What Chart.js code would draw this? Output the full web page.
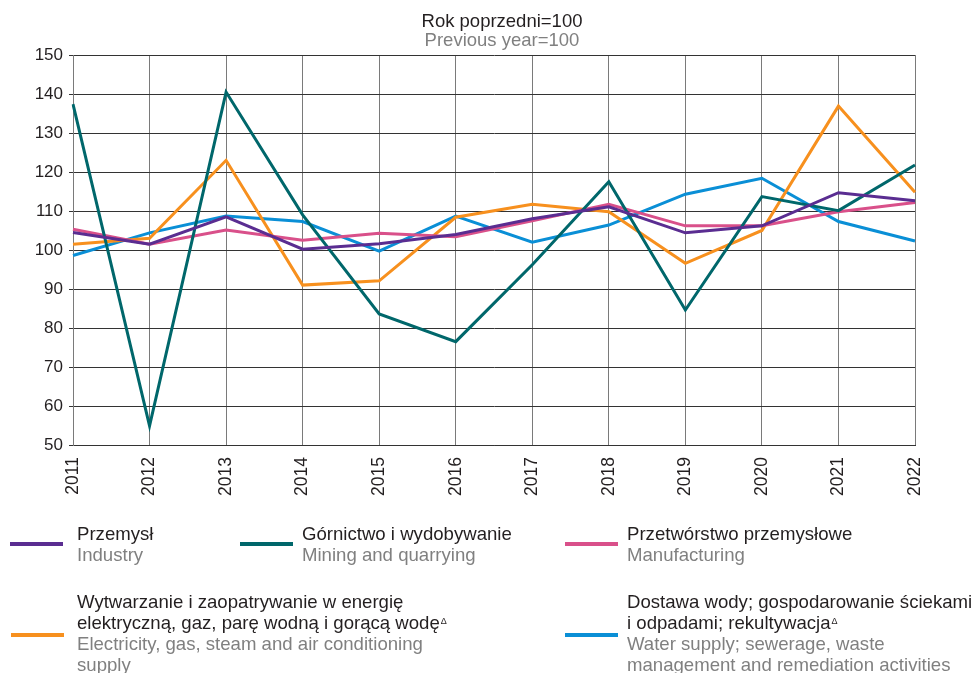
<!DOCTYPE html>
<html><head><meta charset="utf-8">
<script src="https://cdn.jsdelivr.net/npm/chart.js@4.4.0/dist/chart.umd.min.js"></script>
<style>
html,body{margin:0;padding:0;background:#fff;}
#wrap{position:relative;width:974px;height:673px;overflow:hidden;font-family:"Liberation Sans",Arial,sans-serif;}
#c{position:absolute;left:0;top:0;}
.lg{position:absolute;font-size:18.6px;line-height:21px;white-space:nowrap;}
.ttl{position:absolute;left:302px;width:400px;text-align:center;font-size:18.5px;line-height:19px;white-space:nowrap;}
.pl{color:#231f20}.en{color:#808080}
.sw{position:absolute;height:4px;width:53px;}
sup{font-size:9px;vertical-align:top;position:relative;top:-1px;margin-left:1px}
</style></head>
<body><div id="wrap"><canvas id="c" width="974" height="673"></canvas></div>
<script>
// ---- data ----
const years = ['2011','2012','2013','2014','2015','2016','2017','2018','2019','2020','2021','2022'];
const industry      = [104.5, 101.5, 108.5, 100.2, 101.6, 104.0, 108.0, 111.1, 104.4, 106.2, 114.7, 112.6];
const mining        = [137.4,  54.9, 140.5, 109.0,  83.6,  76.5,  96.2, 117.5,  84.6, 113.7, 110.1, 121.8];
const manufacturing = [105.3, 101.5, 105.1, 102.5, 104.3, 103.4, 107.5, 111.7, 106.2, 106.2, 109.8, 112.2];
const electricity   = [101.5, 103.0, 123.0,  91.0,  92.1, 108.4, 111.7, 109.8,  96.6, 105.0, 136.9, 114.8];
const water         = [ 98.6, 104.4, 108.7, 107.3,  99.7, 108.7, 102.0, 106.4, 114.3, 118.4, 107.3, 102.3];
const yTicks = [50, 60, 70, 80, 90, 100, 110, 120, 130, 140, 150];
const titlePl = 'Rok poprzedni=100';
const titleEn = 'Previous year=100';
const labelsPl = [
  ['Przemysł'],
  ['Górnictwo i wydobywanie'],
  ['Przetwórstwo przemysłowe'],
  ['Wytwarzanie i zaopatrywanie w energię', 'elektryczną, gaz, parę wodną i gorącą wodę\u0394'],
  ['Dostawa wody; gospodarowanie ściekami', 'i odpadami; rekultywacja\u0394']
];
const labelsEn = [
  ['Industry'],
  ['Mining and quarrying'],
  ['Manufacturing'],
  ['Electricity, gas, steam and air conditioning', 'supply'],
  ['Water supply; sewerage, waste', 'management and remediation activities']
];
const seriesValues = [industry, mining, manufacturing, electricity, water];

// ---- styles ----
const colors = ['#5a2d91', '#00676b', '#d9508a', '#f7901e', '#0a8fd6'];
const legendPos = [
  {sx: 10, sy: 542, tx: 77, ty: 523},
  {sx: 240, sy: 542, tx: 302, ty: 523},
  {sx: 565, sy: 542, tx: 627, ty: 523},
  {sx: 11, sy: 633, tx: 77, ty: 591},
  {sx: 565, sy: 633, tx: 627, ty: 591}
];
const FONT = '"Liberation Sans", Arial, sans-serif';

const wrap = document.getElementById('wrap');
function esc(s){return s.replace(/&/g,'&amp;').replace(/</g,'&lt;');}
function fmt(s){return esc(s).replace('\u0394','<sup>\u0394</sup>');}

[[titlePl, 'pl', 11], [titleEn, 'en', 29.5]].forEach(([txt, cls, top]) => {
  const d = document.createElement('div');
  d.className = 'ttl ' + cls;
  d.style.top = top + 'px';
  d.textContent = txt;
  wrap.appendChild(d);
});

seriesValues.forEach((_, i) => {
  const p = legendPos[i];
  const sw = document.createElement('div');
  sw.className = 'sw';
  sw.style.left = p.sx + 'px'; sw.style.top = p.sy + 'px'; sw.style.background = colors[i];
  wrap.appendChild(sw);
  const t = document.createElement('div');
  t.className = 'lg';
  t.style.left = p.tx + 'px'; t.style.top = p.ty + 'px';
  t.innerHTML = labelsPl[i].map(l => '<div class="pl">' + fmt(l) + '</div>').join('') +
                labelsEn[i].map(l => '<div class="en">' + fmt(l) + '</div>').join('');
  wrap.appendChild(t);
});

const datasets = seriesValues.map((vals, i) => ({
  label: labelsPl[i].join(' '),
  data: vals,
  borderColor: colors[i],
  backgroundColor: colors[i],
  borderWidth: 3,
  pointRadius: 0,
  tension: 0,
  fill: false
}));

new Chart(document.getElementById('c'), {
  type: 'line',
  data: { labels: years, datasets },
  options: {
    responsive: false,
    animation: false,
    devicePixelRatio: 1,
    layout: { padding: { left: 0, right: 59, top: 55, bottom: 168 } },
    plugins: {
      legend: { display: false },
      tooltip: { enabled: false },
      title: { display: false },
      subtitle: { display: false }
    },
    scales: {
      x: {
        type: 'category',
        offset: false,
        afterFit: s => { s.height = 60; },
        grid: { color: '#7a7a7a', lineWidth: 1, drawTicks: false },
        border: { color: '#333', width: 1 },
        ticks: {
          color: '#231f20', font: { family: FONT, size: 17.5 },
          minRotation: 90, maxRotation: 90, padding: 12, autoSkip: false
        }
      },
      y: {
        min: 50, max: 150,
        afterFit: s => { s.width = 73; },
        afterBuildTicks: s => { s.ticks = yTicks.map(v => ({ value: v })); },
        grid: { color: '#333', lineWidth: 1, tickLength: 4 },
        border: { color: '#7a7a7a', width: 1 },
        ticks: { color: '#231f20', font: { family: FONT, size: 17 }, padding: 6 }
      }
    }
  }
});
</script>
</body></html>
